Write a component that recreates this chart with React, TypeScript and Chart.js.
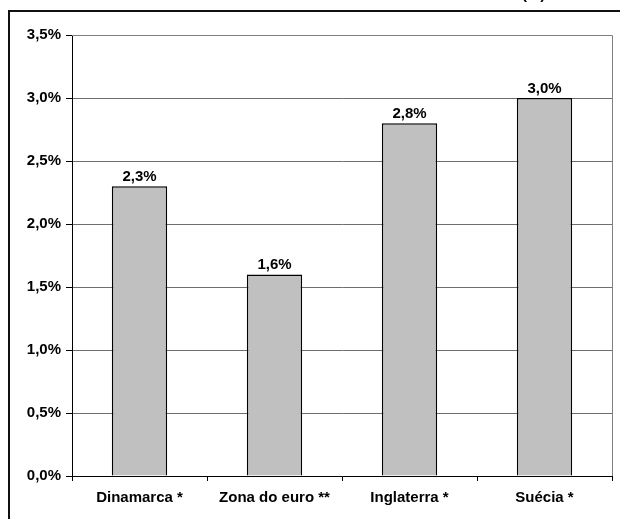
import React, { useEffect, useRef } from "react";
import { Chart, registerables } from "chart.js";

Chart.register(...registerables);

const categories = ["Dinamarca *", "Zona do euro **", "Inglaterra *", "Suécia *"];
const values = [2.3, 1.6, 2.8, 3.0];
const yMin = 0;
const yMax = 3.5;
const yStep = 0.5;
const titleText = "(%)";

const FONT = "'Liberation Sans', Arial, sans-serif";

const fmt = (v: number) => v.toFixed(1).replace(".", ",") + "%";

const labelPlugin = {
  id: "barLabels",
  afterDatasetsDraw(chart: any) {
    const ctx = chart.ctx;
    const meta = chart.getDatasetMeta(0);
    ctx.save();
    ctx.font = `bold 15px ${FONT}`;
    ctx.fillStyle = "#000";
    ctx.textAlign = "center";
    ctx.textBaseline = "alphabetic";
    meta.data.forEach((el: any, i: number) => {
      ctx.fillText(fmt(values[i]), el.x, el.y - 5);
    });
    ctx.restore();
  },
};

const borderPlugin = {
  id: "plotBorder",
  afterDraw(chart: any) {
    const { ctx, chartArea } = chart;
    ctx.save();
    ctx.strokeStyle = "#808080";
    ctx.lineWidth = 1;
    ctx.beginPath();
    ctx.moveTo(chartArea.left, Math.round(chartArea.top) + 0.5);
    ctx.lineTo(Math.round(chartArea.right) + 0.5, Math.round(chartArea.top) + 0.5);
    ctx.lineTo(Math.round(chartArea.right) + 0.5, chartArea.bottom);
    ctx.stroke();
    ctx.restore();
  },
};

export default function App() {
  const ref = useRef<HTMLCanvasElement | null>(null);
  useEffect(() => {
    if (!ref.current) return;
    const chart = new Chart(ref.current, {
      type: "bar",
      data: {
        labels: categories,
        datasets: [
          {
            data: values,
            backgroundColor: "#C0C0C0",
            borderColor: "#000",
            borderWidth: 1.5,
            barPercentage: 0.41,
            categoryPercentage: 1,
          },
        ],
      },
      options: {
        responsive: false,
        animation: false,
        devicePixelRatio: 1,
        layout: { padding: { left: 0, right: 8, top: 35, bottom: 0 } },
        plugins: {
          legend: { display: false },
          tooltip: { enabled: false },
          title: { display: false },
        },
        scales: {
          x: {
            grid: {
              offset: true,
              drawOnChartArea: false,
              drawTicks: true,
              tickLength: 5,
              color: "#000",
            },
            border: { color: "#000", width: 1 },
            ticks: {
              color: "#000",
              font: { family: FONT, size: 15, weight: "bold" },
              padding: 8,
              maxRotation: 0,
              autoSkip: false,
            },
            afterFit(scale: any) {
              scale.height = 43;
            },
          },
          y: {
            min: yMin,
            max: yMax,
            grid: {
              color: "#6e6e6e",
              tickColor: "#000",
              tickLength: 6,
              lineWidth: 1,
            },
            border: { color: "#000", width: 1 },
            ticks: {
              stepSize: yStep,
              color: "#000",
              font: { family: FONT, size: 15, weight: "bold" },
              padding: 5,
              callback: (v: any) => fmt(Number(v)),
            },
            afterFit(scale: any) {
              scale.width = 72;
            },
          },
        },
      },
      plugins: [labelPlugin, borderPlugin],
    });
    return () => chart.destroy();
  }, []);

  return (
    <div>
      <div
        style={{
          position: "fixed",
          left: 8,
          top: 10,
          width: 612,
          height: 509,
          borderTop: "2px solid #111",
          borderLeft: "2px solid #111",
          boxSizing: "border-box",
          background: "#fff",
        }}
      />
      <div
        style={{
          position: "fixed",
          left: 522,
          top: -14,
          font: `bold 15px ${FONT}`,
          lineHeight: "15px",
          color: "#000",
          whiteSpace: "nowrap",
        }}
      >
        {titleText}
      </div>
      <canvas
        ref={ref}
        width={620}
        height={519}
        style={{ position: "fixed", left: 0, top: 0 }}
      />
    </div>
  );
}
